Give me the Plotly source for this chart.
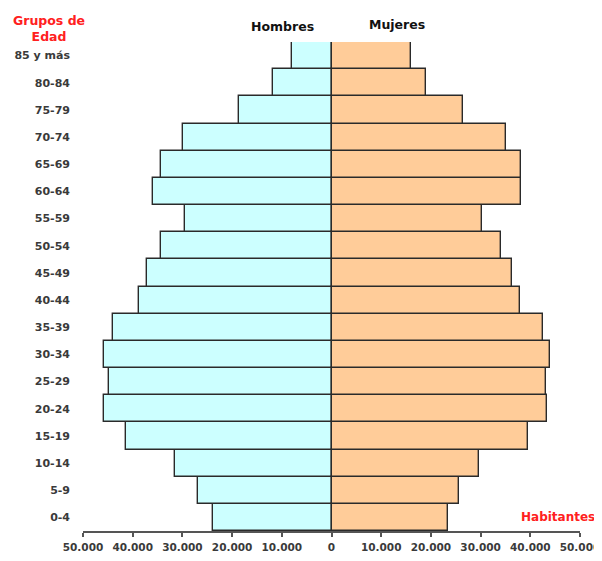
import plotly.graph_objects as go

grupos = ["0-4", "5-9", "10-14", "15-19", "20-24", "25-29", "30-34", "35-39",
          "40-44", "45-49", "50-54", "55-59", "60-64", "65-69", "70-74",
          "75-79", "80-84", "85 y más"]
hombres = [23900, 26800, 31400, 41300, 45700, 44800, 45800, 44000,
           38800, 37200, 34300, 29400, 36000, 34400, 29900, 18600, 11700, 8000]
mujeres = [23500, 25700, 29700, 39600, 43300, 43200, 43900, 42500,
           38000, 36400, 34100, 30300, 38100, 38200, 35200, 26400, 19100, 15900]
tick_vals = [-50000, -40000, -30000, -20000, -10000, 0, 10000, 20000, 30000, 40000, 50000]
tick_text = ["50.000", "40.000", "30.000", "20.000", "10.000", "0",
             "10.000", "20.000", "30.000", "40.000", "50.000"]

FONT = "DejaVu Sans"

fig = go.Figure()
fig.add_trace(go.Bar(
    y=grupos, x=[-v for v in hombres], orientation="h", name="Hombres",
    marker=dict(color="#CCFFFF", line=dict(color="#2a2a2a", width=1.4)),
))
fig.add_trace(go.Bar(
    y=grupos, x=mujeres, orientation="h", name="Mujeres",
    marker=dict(color="#FFCC99", line=dict(color="#2a2a2a", width=1.4)),
))

# page body has an 8px default margin, so the figure is sized to fit inside
fig.update_layout(
    width=594, height=545,
    margin=dict(l=75, r=22, t=34, b=22),
    barmode="overlay", bargap=0,
    showlegend=False,
    plot_bgcolor="white", paper_bgcolor="white",
    font=dict(family=FONT, size=11, color="#3a3a3a"),
)
fig.update_xaxes(
    range=[-50000, 50000], tickvals=tick_vals,
    ticktext=["<b>%s</b>" % t for t in tick_text],
    showgrid=False, zeroline=False, showline=True, linecolor="#555555", linewidth=1.5,
    ticks="outside", ticklen=4, tickcolor="#555555", tickwidth=1.5,
    ticklabelstandoff=2,
    tickfont=dict(family=FONT, size=10.5, color="#3a3a3a"), fixedrange=True,
    automargin=False,
)
fig.update_yaxes(
    range=[-0.5, 17.5], tickvals=grupos,
    ticktext=["<b>%s</b>" % g for g in grupos],
    showgrid=False, zeroline=False, showline=False, ticks="",
    ticklabelstandoff=12,
    tickfont=dict(family=FONT, size=11, color="#3a3a3a"), fixedrange=True,
    automargin=False,
)

fig.add_annotation(x=-0.0688, y=1.0266, xref="paper", yref="paper",
                   text="<b>Grupos de<br>Edad</b>", showarrow=False,
                   xanchor="center", yanchor="middle",
                   font=dict(family=FONT, size=12.5, color="#FF2020"))
fig.add_annotation(x=0.4008, y=1.0307, xref="paper", yref="paper",
                   text="<b>Hombres</b>", showarrow=False,
                   xanchor="center", yanchor="middle",
                   font=dict(family=FONT, size=12.5, color="#111111"))
fig.add_annotation(x=0.632, y=1.0348, xref="paper", yref="paper",
                   text="<b>Mujeres</b>", showarrow=False,
                   xanchor="center", yanchor="middle",
                   font=dict(family=FONT, size=12.5, color="#111111"))
fig.add_annotation(x=0.955, y=0.0287, xref="paper", yref="paper",
                   text="<b>Habitantes</b>", showarrow=False,
                   xanchor="center", yanchor="middle",
                   font=dict(family=FONT, size=12, color="#FF2020"))

fig.write_html("out.html")
